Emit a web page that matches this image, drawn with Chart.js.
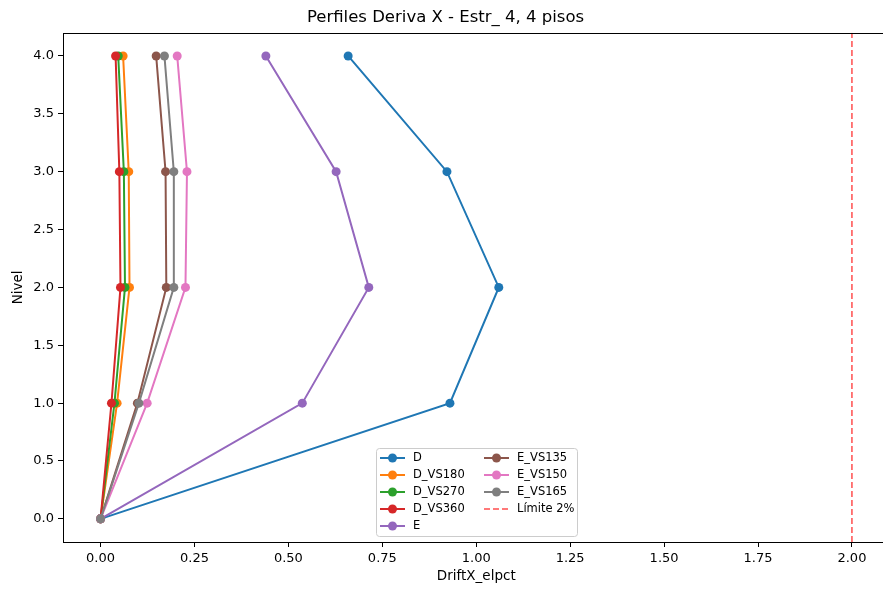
<!DOCTYPE html>
<html>
<head>
<meta charset="utf-8">
<script src="https://cdn.jsdelivr.net/npm/chart.js@4.4.1/dist/chart.umd.min.js"></script>
<style>
  html, body { margin: 0; padding: 0; background: #fff; overflow: hidden; }
  #wrap { width: 894px; height: 590px; }
</style>
</head>
<body>
<div id="wrap"><canvas id="chart" width="894" height="590"></canvas></div>
<script>
// Niveles (pisos) y derivas por serie
const niveles = [0, 1, 2, 3, 4];
const D       = [0, 0.930, 1.060, 0.922, 0.659];
const D_VS180 = [0, 0.044, 0.077, 0.075, 0.060];
const D_VS270 = [0, 0.037, 0.065, 0.062, 0.047];
const D_VS360 = [0, 0.029, 0.053, 0.050, 0.040];
const E       = [0, 0.537, 0.714, 0.627, 0.440];
const E_VS135 = [0, 0.098, 0.175, 0.173, 0.148];
const E_VS150 = [0, 0.124, 0.226, 0.230, 0.204];
const E_VS165 = [0, 0.102, 0.195, 0.195, 0.170];
const limite = 2.0;

const xTicks = [0, 0.25, 0.5, 0.75, 1.0, 1.25, 1.5, 1.75, 2.0];
const yTicks = [0, 0.5, 1.0, 1.5, 2.0, 2.5, 3.0, 3.5, 4.0];

const FONT = "'DejaVu Sans', sans-serif";

// tab10 colours like matplotlib
const series = [
    { label: 'D',       values: D,       color: '#1f77b4' },
    { label: 'D_VS180', values: D_VS180, color: '#ff7f0e' },
    { label: 'D_VS270', values: D_VS270, color: '#2ca02c' },
    { label: 'D_VS360', values: D_VS360, color: '#d62728' },
    { label: 'E',       values: E,       color: '#9467bd' },
    { label: 'E_VS135', values: E_VS135, color: '#8c564b' },
    { label: 'E_VS150', values: E_VS150, color: '#e377c2' },
    { label: 'E_VS165', values: E_VS165, color: '#7f7f7f' }
];
const limitColor = 'rgba(255, 0, 0, 0.7)';

const datasets = series.map((s, i) => ({
    label: s.label,
    data: s.values.map((v, k) => ({ x: v, y: niveles[k] })),
    borderColor: s.color,
    backgroundColor: s.color,
    borderWidth: 2,
    pointRadius: 4.5,
    pointBorderWidth: 0,
    pointHoverRadius: 4.5,
    order: 20 - i   // later series on top, like matplotlib
}));

datasets.push({
    label: 'Límite 2%',
    data: [{ x: limite, y: -0.2 }, { x: limite, y: 4.2 }],
    borderColor: limitColor,
    backgroundColor: limitColor,
    borderWidth: 1.5,
    borderDash: [6, 3],
    pointRadius: 0,
    order: 1
});

// frame round the plot area
const framePlugin = {
    id: 'frame',
    afterDraw(chart) {
        const { ctx, chartArea: a } = chart;
        ctx.save();
        ctx.strokeStyle = '#000';
        ctx.lineWidth = 1;
        ctx.strokeRect(Math.round(a.left) + 0.5, Math.round(a.top) + 0.5,
                       Math.round(a.right - a.left), Math.round(a.bottom - a.top));
        ctx.restore();
    }
};

// matplotlib-like legend inside the axes, two columns
const legendPlugin = {
    id: 'mplLegend',
    afterDraw(chart) {
        const ctx = chart.ctx;
        const bx = 376, by = 448, bw = 201, bh = 88;
        ctx.save();
        ctx.fillStyle = 'rgba(255,255,255,0.8)';
        ctx.strokeStyle = '#cccccc';
        ctx.lineWidth = 1;
        ctx.beginPath();
        ctx.roundRect(bx + 0.5, by + 0.5, bw, bh, 3);
        ctx.fill();
        ctx.stroke();

        const items = chart.data.datasets;
        const cols = [items.slice(0, 5), items.slice(5)];
        const colX = [bx + 4, bx + 108];
        ctx.font = '11.5px ' + FONT;
        ctx.textBaseline = 'middle';
        cols.forEach((col, c) => {
            col.forEach((ds, r) => {
                const y = by + 10 + r * 17;
                const x0 = colX[c];
                ctx.strokeStyle = ds.borderColor;
                ctx.lineWidth = ds.borderWidth;
                ctx.setLineDash(ds.borderDash || []);
                ctx.beginPath();
                ctx.moveTo(x0, y);
                ctx.lineTo(x0 + 25, y);
                ctx.stroke();
                ctx.setLineDash([]);
                if (ds.pointRadius > 0) {
                    ctx.fillStyle = ds.backgroundColor;
                    ctx.beginPath();
                    ctx.arc(x0 + 12.5, y, 4.5, 0, Math.PI * 2);
                    ctx.fill();
                }
                ctx.fillStyle = '#000';
                ctx.fillText(ds.label, x0 + 33, y + 0.5);
            });
        });
        ctx.restore();
    }
};

new Chart(document.getElementById('chart'), {
    type: 'line',
    data: { datasets },
    plugins: [framePlugin, legendPlugin],
    options: {
        responsive: false,
        animation: false,
        events: [],
        layout: { padding: { left: 0, right: 3, top: 0, bottom: 0 } },
        plugins: {
            legend: { display: false },
            tooltip: { enabled: false },
            title: {
                display: true,
                text: 'Perfiles Deriva X - Estr_ 4, 4 pisos',
                color: '#000',
                font: { family: FONT, size: 16.5, weight: 'normal', lineHeight: 1.2 },
                padding: { top: 8, bottom: 5 }
            }
        },
        scales: {
            x: {
                type: 'linear',
                min: -0.1,
                max: 2.1,
                afterBuildTicks: (scale) => { scale.ticks = xTicks.map(v => ({ value: v })); },
                afterFit: (scale) => { scale.height = 48; },
                ticks: {
                    color: '#000',
                    font: { family: FONT, size: 13 },
                    padding: 4,
                    maxRotation: 0,
                    callback: (v) => Number(v).toFixed(2)
                },
                grid: { drawOnChartArea: false, drawTicks: true, tickLength: 5, color: '#000' },
                border: { display: false },
                title: {
                    display: true,
                    text: 'DriftX_elpct',
                    color: '#000',
                    font: { family: FONT, size: 13.5 },
                    padding: { top: 2, bottom: 5 }
                }
            },
            y: {
                type: 'linear',
                min: -0.2,
                max: 4.2,
                afterBuildTicks: (scale) => { scale.ticks = yTicks.map(v => ({ value: v })); },
                afterFit: (scale) => { scale.width = 63; },
                ticks: {
                    color: '#000',
                    font: { family: FONT, size: 13 },
                    padding: 4,
                    callback: (v) => Number(v).toFixed(1)
                },
                grid: { drawOnChartArea: false, drawTicks: true, tickLength: 5, color: '#000' },
                border: { display: false },
                title: {
                    display: true,
                    text: 'Nivel',
                    color: '#000',
                    font: { family: FONT, size: 13.5 },
                    padding: { top: 10, bottom: 2 }
                }
            }
        }
    }
});
</script>
</body>
</html>
